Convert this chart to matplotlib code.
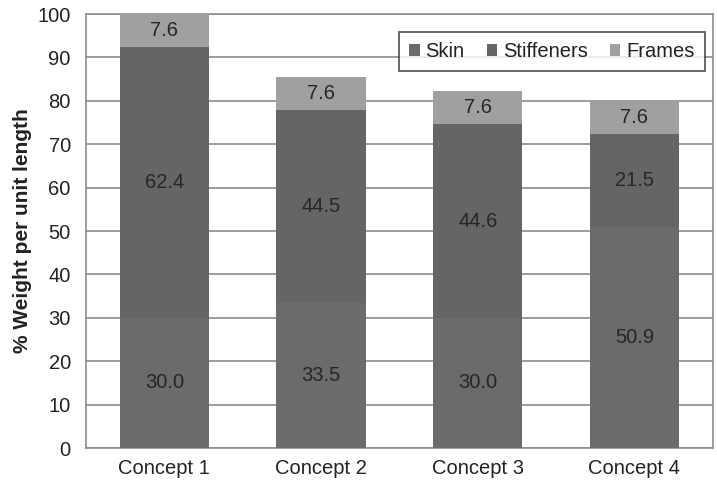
import matplotlib
matplotlib.use("Agg")
import matplotlib.pyplot as plt
import numpy as np

plt.rcParams['font.family'] = ['Liberation Sans', 'DejaVu Sans']

categories = ["Concept 1", "Concept 2", "Concept 3", "Concept 4"]
skin = [30.0, 33.5, 30.0, 50.9]
stiffeners = [62.4, 44.5, 44.6, 21.5]
frames = [7.6, 7.6, 7.6, 7.6]
yticks = [0, 10, 20, 30, 40, 50, 60, 70, 80, 90, 100]

c_skin = "#6b6b6b"
c_stiff = "#656565"
c_frames = "#a0a0a0"

fig = plt.figure(figsize=(7.17, 4.86), dpi=100)
ax = fig.add_axes([0.12, 0.078, 0.874, 0.893])

x = np.arange(len(categories))
w = 0.57
b1 = ax.bar(x, skin, w, color=c_skin, label="Skin", zorder=3)
b2 = ax.bar(x, stiffeners, w, bottom=skin, color=c_stiff, label="Stiffeners", zorder=3)
bot3 = [a + b for a, b in zip(skin, stiffeners)]
b3 = ax.bar(x, frames, w, bottom=bot3, color=c_frames, label="Frames", zorder=3)

for vals, bottoms in [(skin, [0]*4), (stiffeners, skin), (frames, bot3)]:
    for xi, v, bt in zip(x, vals, bottoms):
        ax.text(xi, bt + v / 2, f"{v:.1f}", ha="center", va="center",
                fontsize=14.5, color="#262626", zorder=4)

ax.set_ylim(0, 100)
ax.set_xlim(-0.5, len(categories) - 0.5)
ax.set_yticks(yticks)
ax.set_xticks(x)
ax.set_xticklabels(categories, fontsize=14.5)
ax.tick_params(axis='y', labelsize=14.5, length=0, pad=11, labelcolor="#222222")
ax.tick_params(axis='x', length=0, pad=8, labelcolor="#222222")
ax.yaxis.grid(True, color="#8c8c8c", linewidth=1.2, zorder=0)
ax.set_axisbelow(True)
for s in ax.spines.values():
    s.set_color("#8c8c8c")
    s.set_linewidth(1.2)
ax.set_ylabel("% Weight per unit length", fontsize=15, fontweight="bold", labelpad=4,
              color="#222222")

leg = ax.legend(loc="upper right", bbox_to_anchor=(0.987, 0.9585), ncol=3, fontsize=14.5,
                frameon=True, fancybox=False, edgecolor="#222222", handlelength=0.5,
                handleheight=0.5, handletextpad=0.3, columnspacing=1.1, borderpad=0.5,
                borderaxespad=0)
leg.get_frame().set_linewidth(1.2)
leg.set_zorder(5)
for t in leg.get_texts():
    t.set_color("#222222")

fig.savefig("out.png", dpi=100)
